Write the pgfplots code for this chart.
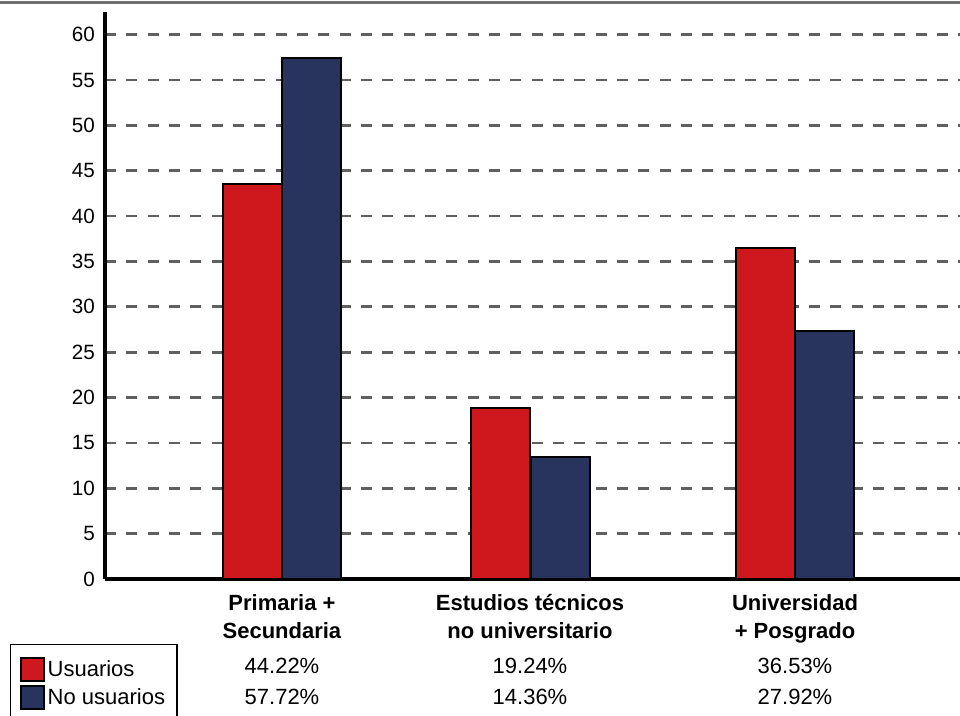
\documentclass[border=0pt]{standalone}
\usepackage{fontspec}
\setmainfont{Liberation Sans}
\usepackage{pgfplots}
\pgfplotsset{compat=1.18}

\definecolor{usuRed}{RGB}{206,24,30}
\definecolor{noBlue}{RGB}{40,52,94}
\definecolor{gridGray}{RGB}{96,96,96}
\definecolor{topGray}{RGB}{112,112,112}

\begin{document}
\begin{tikzpicture}
% page frame: 960 x 716 px at 0.75pt per px, axis origin at (0,0)
\useasboundingbox (-78.75pt,-102.75pt) rectangle (641.25pt,434.25pt);
\fill[white] (-78.75pt,-102.75pt) rectangle (641.25pt,434.25pt);
\draw[topGray, line width=2.25pt] (-78.75pt,432.4pt) -- (641.25pt,432.4pt);
\begin{axis}[
  scale only axis,
  width=641.25pt, height=425.25pt,
  xmin=0, xmax=855, ymin=0, ymax=62.5,
  axis x line=bottom, axis y line=left,
  axis line style={line width=3.5pt, -},
  major tick length=0pt,
  ytick={0,5,...,60},
  ymajorgrids,
  grid style={gridGray, line width=2pt, dash pattern=on 8.25pt off 7.75pt},
  /pgf/number format/assume math mode=true,
  yticklabel style={font=\fontsize{15.5}{18}\selectfont, xshift=-4pt},
  xtick={177,425,690},
  xticklabels={
    {\textbf{Primaria +}\\\textbf{Secundaria}\\[5.25pt]44.22\%\\[2.25pt]57.72\%},
    {\textbf{Estudios técnicos}\\\textbf{no universitario}\\[5.25pt]19.24\%\\[2.25pt]14.36\%},
    {\textbf{Universidad}\\\textbf{+ Posgrado}\\[5.25pt]36.53\%\\[2.25pt]27.92\%}},
  xticklabel style={align=center, font=\fontsize{16.5}{21}\selectfont, yshift=-8pt},
  legend style={at={(axis description cs:-0.1111,-0.1146)}, anchor=north west,
    draw=black, line width=1pt, font=\fontsize{16.5}{19}\selectfont,
    inner xsep=7pt, inner ysep=9pt, row sep=2.5pt},
  legend cell align=left,
  legend image code/.code={\draw[#1, line width=1.5pt] (0pt,-8.6pt) rectangle (17.25pt,8.6pt);},
]
\addplot[ybar, bar width=59, bar shift=0pt, fill=usuRed, draw=black, line width=1.5pt]
  coordinates {(147,43.5) (395.5,18.8) (660,36.5)};
\addplot[ybar, bar width=59, bar shift=0pt, fill=noBlue, draw=black, line width=1.5pt]
  coordinates {(206.5,57.4) (455,13.5) (719,27.3)};
\legend{Usuarios, No usuarios}
\end{axis}
\end{tikzpicture}
\end{document}
